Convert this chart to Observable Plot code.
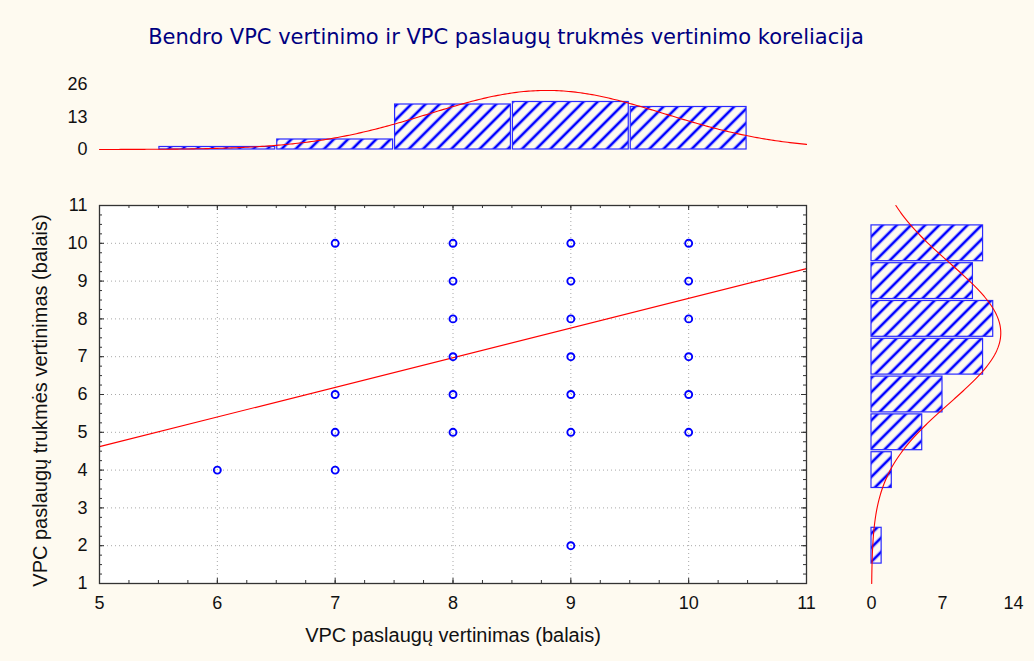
<!DOCTYPE html>
<html><head><meta charset="utf-8">
<script src="https://cdn.jsdelivr.net/npm/d3@7"></script>
<script src="https://cdn.jsdelivr.net/npm/@observablehq/plot@0.6"></script>
<style>
html,body{margin:0;padding:0;background:#fefaf0;}
#chart{position:relative;width:1034px;height:661px;background:#fefaf0;font-family:"Liberation Sans",Arial,sans-serif;overflow:hidden}
#chart > .pos{position:absolute}
#title{left:0;width:1012px;top:25px;text-align:center;font-family:"DejaVu Sans",Verdana,sans-serif;font-size:21px;color:#000080;white-space:nowrap}
</style></head>
<body>
<svg width="0" height="0" style="position:absolute">
  <defs>
    <pattern id="hatch" patternUnits="userSpaceOnUse" width="10" height="10" patternTransform="rotate(45)">
      <rect x="3" y="0" width="4" height="10" fill="#a8a8ff"/>
      <rect x="4" y="0" width="2" height="10" fill="#0000ff"/>
    </pattern>
  </defs>
</svg>
<div id="chart"><div id="title" class="pos">Bendro VPC vertinimo ir VPC paslaugų trukmės vertinimo koreliacija</div></div>
<script>
// ---- data ----
const xLabel = "VPC paslaugų vertinimas (balais)";
const yLabel = "VPC paslaugų trukmės vertinimas (balais)";

// distinct scatter points
const scatterX = [6, 7, 7, 7, 7, 8, 8, 8, 8, 8, 8, 9, 9, 9, 9, 9, 9, 9, 10, 10, 10, 10, 10, 10];
const scatterY = [4, 10, 6, 5, 4, 10, 9, 8, 7, 6, 5, 10, 9, 8, 7, 6, 5, 2, 10, 9, 8, 7, 6, 5];

// top marginal histogram (x variable)
const topBins = [6, 7, 8, 9, 10];
const topCounts = [1, 4, 18, 19, 17];
// right marginal histogram (y variable)
const rightBins = [2, 3, 4, 5, 6, 7, 8, 9, 10];
const rightCounts = [1, 0, 2, 5, 7, 11, 12, 10, 11];
const binWidth = 1;

// regression line read at the plot edges
const regX = [5, 11];
const regY = [4.62, 9.33];

// axis ticks
const xTicks = [5, 6, 7, 8, 9, 10, 11];
const yTicks = [1, 2, 3, 4, 5, 6, 7, 8, 9, 10, 11];
const topTicks = [0, 13, 26];
const rightTicks = [0, 7, 14];

// ---- helpers ----
function fitNormal(bins, counts) {
  const n = d3.sum(counts);
  const mean = d3.sum(bins, (b, i) => b * counts[i]) / n;
  const ss = d3.sum(bins, (b, i) => counts[i] * (b - mean) ** 2);
  const sd = Math.sqrt(ss / (n - 1));
  return v => n * binWidth / (sd * Math.sqrt(2 * Math.PI)) * Math.exp(-((v - mean) ** 2) / (2 * sd * sd));
}
const fxN = fitNormal(topBins, topCounts);
const fyN = fitNormal(rightBins, rightCounts);
const xs = d3.range(0, 301).map(i => xTicks[0] + i * (xTicks[xTicks.length - 1] - xTicks[0]) / 300);
const ys = d3.range(0, 301).map(i => yTicks[0] + i * (yTicks[yTicks.length - 1] - yTicks[0]) / 300);
const topCurve = xs.map(x => ({x, y: fxN(x)}));
const rightCurve = ys.map(y => ({y, x: fyN(y)}));

const points = scatterX.map((x, i) => ({x, y: scatterY[i]}));
const reg = regX.map((x, i) => ({x, y: regY[i]}));
const topData = topBins.map((b, i) => ({x1: b - binWidth / 2, x2: b + binWidth / 2, n: topCounts[i]}));
const rightData = rightBins.map((b, i) => ({y1: b - binWidth / 2, y2: b + binWidth / 2, n: rightCounts[i]}));
const minorX = d3.range(1, 24).map(i => xTicks[0] + i * 0.25);
const minorY = d3.range(1, 40).map(i => yTicks[0] + i * 0.25);

const baseStyle = {background: "transparent", fontFamily: "'Liberation Sans', Arial, sans-serif", fontSize: "18px", color: "#111", overflow: "visible"};
const xDom = [xTicks[0], xTicks[xTicks.length - 1]];
const yDom = [yTicks[0], yTicks[yTicks.length - 1]];

// main plot geometry
const W = 830, H = 463, mL = 99, mR = 24, mT = 15, mB = 70;
const fw = W - mL - mR, fh = H - mT - mB;
const minorLen = 3, majorLen = 5;
const tickStyle = {stroke: "#333", strokeWidth: 1};
const inner = (len) => [
  Plot.ruleX(null, {}), // placeholder removed below
];

// ---- main scatter ----
const mainPlot = Plot.plot({
  width: W, height: H,
  marginLeft: mL, marginRight: mR, marginTop: mT, marginBottom: mB,
  x: {domain: xDom}, y: {domain: yDom},
  style: baseStyle,
  marks: [
    Plot.frame({fill: "white", stroke: null}),
    Plot.gridX(xTicks.slice(1, -1), {stroke: "#a8a8a8", strokeOpacity: 1, strokeDasharray: "1,3"}),
    Plot.gridY(yTicks.slice(1, -1), {stroke: "#a8a8a8", strokeOpacity: 1, strokeDasharray: "1,3"}),
    Plot.line(reg, {x: "x", y: "y", stroke: "#ff0000", strokeWidth: 1.2}),
    Plot.dot(points, {x: "x", y: "y", r: 3.5, stroke: "#0000ff", strokeWidth: 1.9, fill: "none"}),
    // inner ticks on all four sides of the frame
    Plot.ruleX(minorX, {x: d => d, insetTop: fh - minorLen, ...tickStyle}),
    Plot.ruleX(minorX, {x: d => d, insetBottom: fh - minorLen, ...tickStyle}),
    Plot.ruleY(minorY, {y: d => d, insetRight: fw - minorLen, ...tickStyle}),
    Plot.ruleY(minorY, {y: d => d, insetLeft: fw - minorLen, ...tickStyle}),
    Plot.ruleX(xTicks, {x: d => d, insetTop: fh - majorLen, ...tickStyle}),
    Plot.ruleX(xTicks, {x: d => d, insetBottom: fh - majorLen, ...tickStyle}),
    Plot.ruleY(yTicks, {y: d => d, insetRight: fw - majorLen, ...tickStyle}),
    Plot.ruleY(yTicks, {y: d => d, insetLeft: fw - majorLen, ...tickStyle}),
    // tick labels
    Plot.axisX(xTicks, {anchor: "bottom", tickSize: 0, tickPadding: 13, label: null, fill: "#111", tickFormat: "d"}),
    Plot.axisY(yTicks, {anchor: "left", tickSize: 0, tickPadding: 12, label: null, fill: "#111", tickFormat: "d"}),
    Plot.frame({stroke: "#333", strokeWidth: 1.3}),
    Plot.text([xLabel], {text: d => d, frameAnchor: "bottom", textAnchor: "middle", dy: 58, fontSize: 20, letterSpacing: 0.8, fill: "#111"}),
    Plot.text([yLabel], {text: d => d, frameAnchor: "left", textAnchor: "middle", dx: -59, dy: 6, rotate: -90, fontSize: 20, letterSpacing: 0.8, fill: "#111"})
  ]
});
mainPlot.classList.add("pos");
mainPlot.style.left = "0px"; mainPlot.style.top = "190px";

// ---- top histogram ----
const topPlot = Plot.plot({
  width: 830, height: 90,
  marginLeft: 99, marginRight: 24, marginTop: 14, marginBottom: 11,
  x: {domain: xDom, axis: null}, y: {domain: [topTicks[0], topTicks[topTicks.length - 1]]},
  style: baseStyle,
  marks: [
    Plot.rectY(topData, {x1: "x1", x2: "x2", y: "n", fill: "url(#hatch)", stroke: "#2a2aff", strokeWidth: 1.2, insetLeft: 1, insetRight: 1}),
    Plot.line(topCurve, {x: "x", y: "y", stroke: "#ff0000", strokeWidth: 1.1}),
    Plot.axisY(topTicks, {anchor: "left", tickSize: 0, tickPadding: 12, label: null, fill: "#111", tickFormat: "d"})
  ]
});
topPlot.classList.add("pos");
topPlot.style.left = "0px"; topPlot.style.top = "70px";

// ---- right histogram ----
const rightPlot = Plot.plot({
  width: 194, height: H,
  marginLeft: 31, marginRight: 21, marginTop: mT, marginBottom: mB,
  x: {domain: [rightTicks[0], rightTicks[rightTicks.length - 1]]}, y: {domain: yDom, axis: null},
  style: baseStyle,
  marks: [
    Plot.rectX(rightData, {y1: "y1", y2: "y2", x: "n", fill: "url(#hatch)", stroke: "#2a2aff", strokeWidth: 1.2, insetTop: 1, insetBottom: 1}),
    Plot.line(rightCurve, {x: "x", y: "y", stroke: "#ff0000", strokeWidth: 1.1}),
    Plot.axisX(rightTicks, {anchor: "bottom", tickSize: 0, tickPadding: 13, label: null, fill: "#111", tickFormat: "d"})
  ]
});
rightPlot.classList.add("pos");
rightPlot.style.left = "840px"; rightPlot.style.top = "190px";

const chart = document.getElementById("chart");
chart.appendChild(topPlot);
chart.appendChild(mainPlot);
chart.appendChild(rightPlot);
</script>
</body></html>
